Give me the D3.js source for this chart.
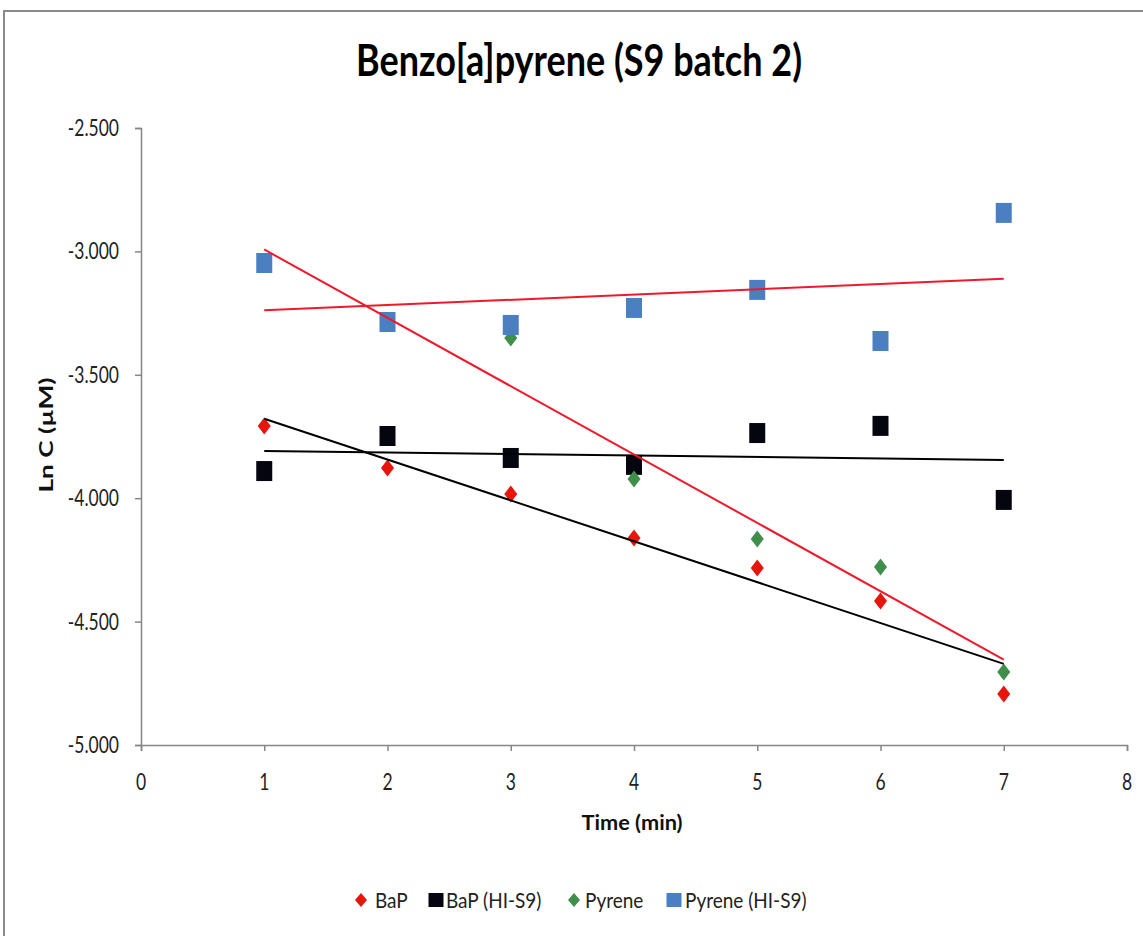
<!DOCTYPE html>
<html><head><meta charset="utf-8">
<script src="https://cdn.jsdelivr.net/npm/d3@7"></script>
<style>body{margin:0;background:#fff;} svg{display:block;}</style>
</head><body>
<svg id="c" width="1143" height="936"></svg>
<script>
const times = [1, 2, 3, 4, 5, 6, 7];
const bapValues = [-3.707, -3.878, -3.983, -4.161, -4.283, -4.417, -4.793];
const bapHIValues = [-3.890, -3.748, -3.837, -3.865, -3.736, -3.707, -4.007];
const pyreneValues = [-3.05, -3.29, -3.351, -3.922, -4.165, -4.279, -4.704];
const pyreneHIValues = [-3.047, -3.286, -3.298, -3.229, -3.156, -3.363, -2.844];
const xTicks = [0, 1, 2, 3, 4, 5, 6, 7, 8];
const yTicks = [-2.5, -3.0, -3.5, -4.0, -4.5, -5.0];
const yTickLabels = ["-2.500", "-3.000", "-3.500", "-4.000", "-4.500", "-5.000"];
const seriesNames = ["BaP", "BaP (HI-S9)", "Pyrene", "Pyrene (HI-S9)"];

const series = [
  {name: seriesNames[0], values: bapValues, shape: "diamond", color: "#e8150d", trend: "#000000"},
  {name: seriesNames[1], values: bapHIValues, shape: "square", color: "#05050f", trend: "#000000"},
  {name: seriesNames[2], values: pyreneValues, shape: "diamond", color: "#3f8f4a", trend: "#f0192c"},
  {name: seriesNames[3], values: pyreneHIValues, shape: "square", color: "#4a7fc1", trend: "#f0192c"}
];

const svg = d3.select("#c");
const font = "Lato, 'Open Sans', sans-serif";

// text helper: vertically stretched text (reference image is taller than wide)
function sText(parent, x, y, str, o) {
  const g = parent.append("g").attr("transform", `translate(${x},${y}) scale(1,${o.k || 1})`);
  const t = g.append("text").attr("x", 0).attr("y", 0)
    .attr("text-anchor", o.anchor || "start")
    .attr("font-family", font).attr("font-size", o.size)
    .attr("font-weight", o.bold ? "bold" : "normal")
    .attr("fill", o.fill || "#222").text(str);
  if (o.len) t.attr("textLength", o.len).attr("lengthAdjust", "spacingAndGlyphs");
  return t;
}

// outer border
svg.append("rect").attr("x", 4).attr("y", 11).attr("width", 1150).attr("height", 940)
  .attr("fill", "none").attr("stroke", "#8a8a8a").attr("stroke-width", 2);

const x = d3.scaleLinear().domain([0, 8]).range([141, 1127]);
const y = d3.scaleLinear().domain([-5, -2.5]).range([745, 128]);

// title
sText(svg, 579, 76, "Benzo[a]pyrene (S9 batch 2)", {size: 34, bold: true, k: 1.27, len: 446, anchor: "middle", fill: "#000"});

// axes
const xAxis = d3.axisBottom(x).tickValues(xTicks).tickFormat("").tickSizeOuter(0).tickSize(6);
const yAxis = d3.axisLeft(y).tickValues(yTicks).tickFormat("").tickSizeOuter(0).tickSize(6);

const gx = svg.append("g").attr("transform", `translate(0,${y(-5)})`).call(xAxis);
const gy = svg.append("g").attr("transform", `translate(${x(0)},0)`).call(yAxis);
[gx, gy].forEach(g => {
  g.select(".domain").attr("stroke", "#868686").attr("stroke-width", 1.5);
  g.selectAll(".tick line").attr("stroke", "#868686").attr("stroke-width", 1.5);
});

// tick labels
xTicks.forEach(t => sText(svg, x(t), 790, String(t), {size: 17.5, k: 1.27, anchor: "middle"}));
yTicks.forEach((t, i) => sText(svg, x(0) - 22, y(t) + 8, yTickLabels[i], {size: 17.5, k: 1.27, anchor: "end"}));

// axis titles
sText(svg, 632, 830, "Time (min)", {size: 17, bold: true, k: 1.27, len: 101, anchor: "middle", fill: "#111"});
svg.append("text").attr("transform", "translate(53,435) rotate(-90)").attr("text-anchor", "middle")
  .attr("font-family", font).attr("font-weight", "bold").attr("font-size", 18)
  .attr("textLength", 115).attr("lengthAdjust", "spacingAndGlyphs")
  .attr("fill", "#111").text("Ln C (µM)");

// shapes
function drawMarker(g, shape, color, cx, cy, w, h) {
  if (shape === "square") {
    g.append("rect").attr("x", cx - w / 2).attr("y", cy - h / 2).attr("width", w).attr("height", h).attr("fill", color);
  } else {
    g.append("path").attr("d", `M${cx},${cy - h / 2}L${cx + w / 2},${cy}L${cx},${cy + h / 2}L${cx - w / 2},${cy}Z`).attr("fill", color);
  }
}

// markers
const markG = svg.append("g");
series.forEach(s => {
  s.values.forEach((v, i) => {
    if (s.shape === "square") drawMarker(markG, "square", s.color, x(times[i]), y(v), 16, 20);
    else drawMarker(markG, "diamond", s.color, x(times[i]), y(v), 13, 17);
  });
});

// linear trendlines
function regress(xs, ys) {
  const n = xs.length, mx = d3.mean(xs), my = d3.mean(ys);
  let sxy = 0, sxx = 0;
  for (let i = 0; i < n; i++) { sxy += (xs[i] - mx) * (ys[i] - my); sxx += (xs[i] - mx) ** 2; }
  const b = sxy / sxx;
  return t => my + b * (t - mx);
}
const lineG = svg.append("g");
series.forEach(s => {
  const f = regress(times, s.values);
  const t0 = d3.min(times), t1 = d3.max(times);
  lineG.append("line").attr("x1", x(t0)).attr("y1", y(f(t0))).attr("x2", x(t1)).attr("y2", y(f(t1)))
    .attr("stroke", s.trend).attr("stroke-width", 2);
});

// legend
const legend = [
  {s: series[0], mx: 361, tx: 375},
  {s: series[1], mx: 436, tx: 446},
  {s: series[2], mx: 574, tx: 585},
  {s: series[3], mx: 674, tx: 685}
];
const ly = 900;
legend.forEach(l => {
  if (l.s.shape === "square") drawMarker(svg, "square", l.s.color, l.mx, ly, 15, 14);
  else drawMarker(svg, "diamond", l.s.color, l.mx, ly, 12, 14);
  sText(svg, l.tx, 908, l.s.name, {size: 19, k: 1.14});
});
</script>
</body></html>
